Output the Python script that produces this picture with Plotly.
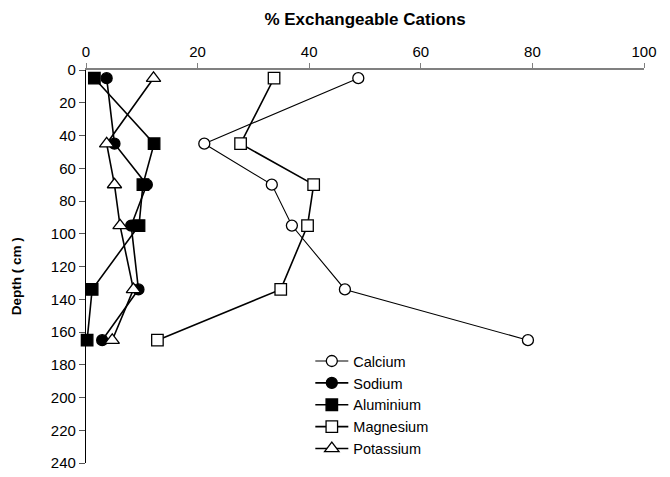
import plotly.graph_objects as go

depth = [5, 45, 70, 95, 134, 165]
calcium = [48.8, 21.2, 33.3, 36.9, 46.4, 79.2]
sodium = [3.7, 5.1, 10.9, 8.1, 9.4, 2.9]
aluminium = [1.5, 12.2, 10.2, 9.5, 1.1, 0.2]
magnesium = [33.7, 27.7, 40.8, 39.7, 34.9, 12.8]
potassium = [12.1, 3.7, 5.1, 6.1, 8.5, 4.7]

x_ticks = [0, 20, 40, 60, 80, 100]
y_ticks = list(range(0, 241, 20))

series = [
    ("Calcium", calcium, "circle", False, 1.1, 11),
    ("Sodium", sodium, "circle", True, 1.6, 11),
    ("Aluminium", aluminium, "square", True, 1.6, 11.5),
    ("Magnesium", magnesium, "square", False, 1.6, 11.5),
    ("Potassium", potassium, "triangle-up", False, 1.6, 12.5),
]

fig = go.Figure()
for name, vals, sym, filled, lw, ms in series:
    fig.add_trace(go.Scatter(
        x=vals, y=depth, name=name, mode="lines+markers",
        line=dict(color="black", width=lw),
        marker=dict(symbol=sym, size=ms,
                    color="black" if filled else "white",
                    line=dict(color="black", width=1.3)),
        cliponaxis=False,
    ))

# The page body has an 8px margin, so the figure is sized/offset to compensate.
fig.update_layout(
    width=662, height=469,
    margin=dict(l=78, r=26, t=62, b=6),
    paper_bgcolor="white", plot_bgcolor="white",
    font=dict(family="Liberation Sans, Arial, sans-serif", size=15, color="black"),
    showlegend=True,
    legend=dict(x=0.402, y=0.300, xanchor="left", yanchor="top",
                bgcolor="rgba(0,0,0,0)", font=dict(size=14.5),
                itemwidth=33, tracegroupgap=0),
    xaxis=dict(side="top", range=[0, 100], tickvals=x_ticks,
               showline=True, linecolor="#808080", linewidth=1.5,
               ticks="outside", ticklen=5, tickcolor="#808080",
               tickfont=dict(size=15),
               showgrid=False, zeroline=False,
               title=dict(text="<b>% Exchangeable Cations</b>", standoff=13,
                          font=dict(size=17))),
    yaxis=dict(range=[240, 0], tickvals=y_ticks,
               showline=True, linecolor="black", linewidth=1.2,
               ticks="outside", ticklen=6, tickcolor="#555555",
               tickfont=dict(size=15), ticklabeloverflow="allow",
               showgrid=False, zeroline=False),
    annotations=[dict(text="<b>Depth ( cm )</b>", xref="paper", yref="paper",
                      x=-0.124, y=0.475, textangle=-90, showarrow=False,
                      xanchor="center", yanchor="middle",
                      font=dict(size=13.5))],
)
fig.write_html("out.html")
